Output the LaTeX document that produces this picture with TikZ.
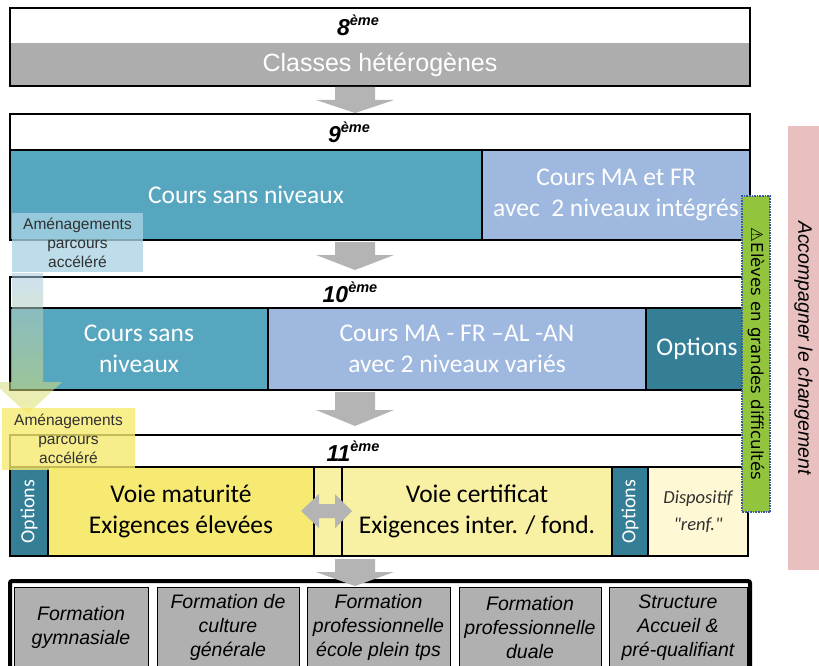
\documentclass[tikz,border=0pt]{standalone}
\usepackage{fontspec}
\setmainfont{Liberation Sans}
\newfontfamily\calib{Carlito}
\newfontfamily\dejavu{DejaVu Sans}
\definecolor{bandgray}{HTML}{ADADAD}
\definecolor{arrowgray}{HTML}{B4B4B4}
\definecolor{tealc}{HTML}{56A6BF}
\definecolor{lightblue}{HTML}{9EB8DF}
\definecolor{darkteal}{HTML}{357F96}
\definecolor{yellowc}{HTML}{F6EA72}
\definecolor{paleyellow}{HTML}{F8F0A2}
\definecolor{verypale}{HTML}{FEF8D4}
\definecolor{cellgray}{HTML}{B0B0B0}
\definecolor{greenc}{HTML}{92C43E}
\definecolor{dotblue}{HTML}{3A5A9A}
\definecolor{pinkc}{HTML}{E9C0C0}
\definecolor{amblue}{HTML}{A9D3E3}
\definecolor{amyellow}{HTML}{F6EA6E}
\definecolor{txtgray}{HTML}{303030}
\newcommand\fsz[2]{\fontsize{#1}{#2}\selectfont}
\newcommand\grade[1]{\textbf{\textit{#1}}\raisebox{0.42em}{\fsz{14.5}{16}\textbf{\textit{ème}}}}
% block arrow pointing down: x centre, shaft top, head start, tip
\newcommand\blockdown[4]{%
  \fill[arrowgray] (#1-20,#2) -- (#1+20,#2) -- (#1+20,#3) -- (#1+39,#3)
    -- (#1,#4) -- (#1-39,#3) -- (#1-20,#3) -- cycle;}
\begin{document}
\begin{tikzpicture}[x=1pt,y=-1pt,
  blk/.style={anchor=north west, inner sep=0pt, outer sep=0pt, align=center},
  cellb/.style={blk, draw=black, line width=1.3pt},
  frame/.style={draw=black, line width=2pt},
  hdrtxt/.style={inner sep=0pt, font=\fsz{23}{25}},
  bigtxt/.style={font=\calib\fsz{25.5}{31}},
  bottomcell/.style={blk, fill=cellgray, draw=black, line width=1pt,
    minimum height=81, font=\itshape\fsz{19.5}{24}, text=black},
  amenag/.style={blk, font=\fsz{15.5}{19}, text=txtgray}]
\useasboundingbox (0,0) rectangle (819,666);

% ---------- 8eme ----------
\node[blk, fill=white, minimum width=740, minimum height=35] (h8) at (10,8) {};
\node[hdrtxt] (t8) at ([xshift=-22]h8.center) {\grade{8}};
\node[blk, fill=bandgray, minimum width=740, minimum height=43, text=white,
  font=\fsz{25}{29}] (c8) at (10,43) {Classes hétérogènes};
\draw[frame] (h8.north west) rectangle (c8.south east);

% ---------- 9eme ----------
\node[blk, fill=white, minimum width=740, minimum height=36] (h9) at (10,114) {};
\node[hdrtxt] (t9) at ([xshift=-31]h9.center) {\grade{9}};
\node[cellb, fill=tealc, minimum width=472, minimum height=90, text=white, bigtxt]
  (c9a) at (10,150) {Cours sans niveaux};
\node[cellb, fill=lightblue, minimum width=268, minimum height=90, text=white, bigtxt]
  (c9b) at (482,150) {Cours MA et FR\\avec\ \ 2 niveaux intégrés};
\draw[frame] (h9.north west) rectangle (c9b.south east);

% ---------- 10eme ----------
\node[blk, fill=white, minimum width=738, minimum height=31] (h10) at (10,277) {};
\node[hdrtxt] (t10) at ([xshift=-29]h10.center) {\grade{10}};
\node[cellb, fill=tealc, minimum width=258, minimum height=82, text=white, bigtxt]
  (c10a) at (10,308) {Cours sans\\niveaux};
\node[cellb, fill=lightblue, minimum width=378, minimum height=82, text=white, bigtxt]
  (c10b) at (268,308) {Cours MA - FR –AL -AN\\avec 2 niveaux variés};
\node[cellb, fill=darkteal, minimum width=102, minimum height=82, text=white, bigtxt]
  (c10c) at (646,308) {Options};
\draw[frame] (h10.north west) rectangle (c10c.south east);

% ---------- 11eme ----------
\node[blk, fill=white, minimum width=738, minimum height=32] (h11) at (10,435) {};
\node[hdrtxt] (t11) at ([xshift=-26]h11.center) {\grade{11}};
\node[cellb, fill=darkteal, minimum width=89, minimum height=38, anchor=center, rotate=90,
  text=white, font=\calib\fsz{20}{22}] (c11a) at (29,511.5) {Options};
\node[cellb, fill=yellowc, minimum width=266, minimum height=89, text=black, bigtxt]
  (c11b) at (48,467) {Voie maturité\\Exigences élevées};
\node[cellb, fill=paleyellow, minimum width=28, minimum height=89] (c11c) at (314,467) {};
\node[cellb, fill=paleyellow, minimum width=270, minimum height=89, text=black, bigtxt]
  (c11d) at (342,467) {Voie certificat\\Exigences inter. / fond.};
\node[cellb, fill=darkteal, minimum width=89, minimum height=36, anchor=center, rotate=90,
  text=white, font=\calib\fsz{20}{22}] (c11e) at (630,511.5) {Options};
\node[cellb, fill=verypale, minimum width=100, minimum height=89, text=txtgray,
  font=\calib\itshape\fsz{18.5}{27}] (c11f) at (648,467) {Dispositif\\"renf."};
\draw[frame, line width=2.4pt] (h11.north west) rectangle (c11f.south east);

% exchange arrow between the two paths
\fill[arrowgray] (301,511) -- (319,494) -- (319,504) -- (335,504) -- (335,494)
  -- (352,511) -- (335,528) -- (335,518) -- (319,518) -- (319,528) -- cycle;

% ---------- formations ----------
\draw[draw=black, line width=4pt, fill=white, rounded corners=2pt]
  (10,581) rectangle (750,700);
\node[bottomcell, minimum width=134] (f1) at (14,587) {Formation\\gymnasiale};
\node[bottomcell, minimum width=142] (f2) at (157,587) {Formation de\\culture\\générale};
\node[bottomcell, minimum width=143] (f3) at (307,587) {Formation\\professionnelle\\école plein tps};
\node[bottomcell, minimum width=142] (f4) at (459,587) {Formation\\professionnelle\\duale};
\node[bottomcell, minimum width=138] (f5) at (609,587) {Structure\\Accueil \&\\pré-qualifiant};

% ---------- transitions ----------
\blockdown{355}{87}{100}{113}
\blockdown{355}{242}{255}{270}
\blockdown{355}{392}{410}{426}
\blockdown{355}{559}{572}{586}

% ---------- accelerated path ----------
\shade[top color=amblue!60!lightblue, bottom color=amyellow!80!greenc, fill opacity=0.55]
  (12,273) -- (43,273) -- (43,382) -- (62,382) -- (27.5,414) -- (-7,382) -- (12,382) -- cycle;
\node[amenag, fill=amblue, fill opacity=0.78, text opacity=1, minimum width=131,
  minimum height=59] (am1) at (12,213) {Aménagements\\parcours\\accéléré};
\node[amenag, fill=amyellow, fill opacity=0.8, text opacity=1, minimum width=133,
  minimum height=62] (am2) at (2,408) {Aménagements\\parcours\\accéléré};

% ---------- side labels ----------
\node[draw=dotblue, densely dotted, line width=1.6pt, fill=greenc, rotate=-90,
  minimum width=316, minimum height=28, inner sep=0pt, text=black,
  font=\dejavu\fsz{16.5}{18}] (diff) at (756,354) {⚠Elèves en grandes difficultés};
\node[fill=pinkc, rotate=-90, minimum width=444, minimum height=31, inner sep=0pt,
  text=black, font=\itshape\fsz{19.5}{21}] (accomp) at (803.5,348) {Accompagner le changement};
\end{tikzpicture}
\end{document}
